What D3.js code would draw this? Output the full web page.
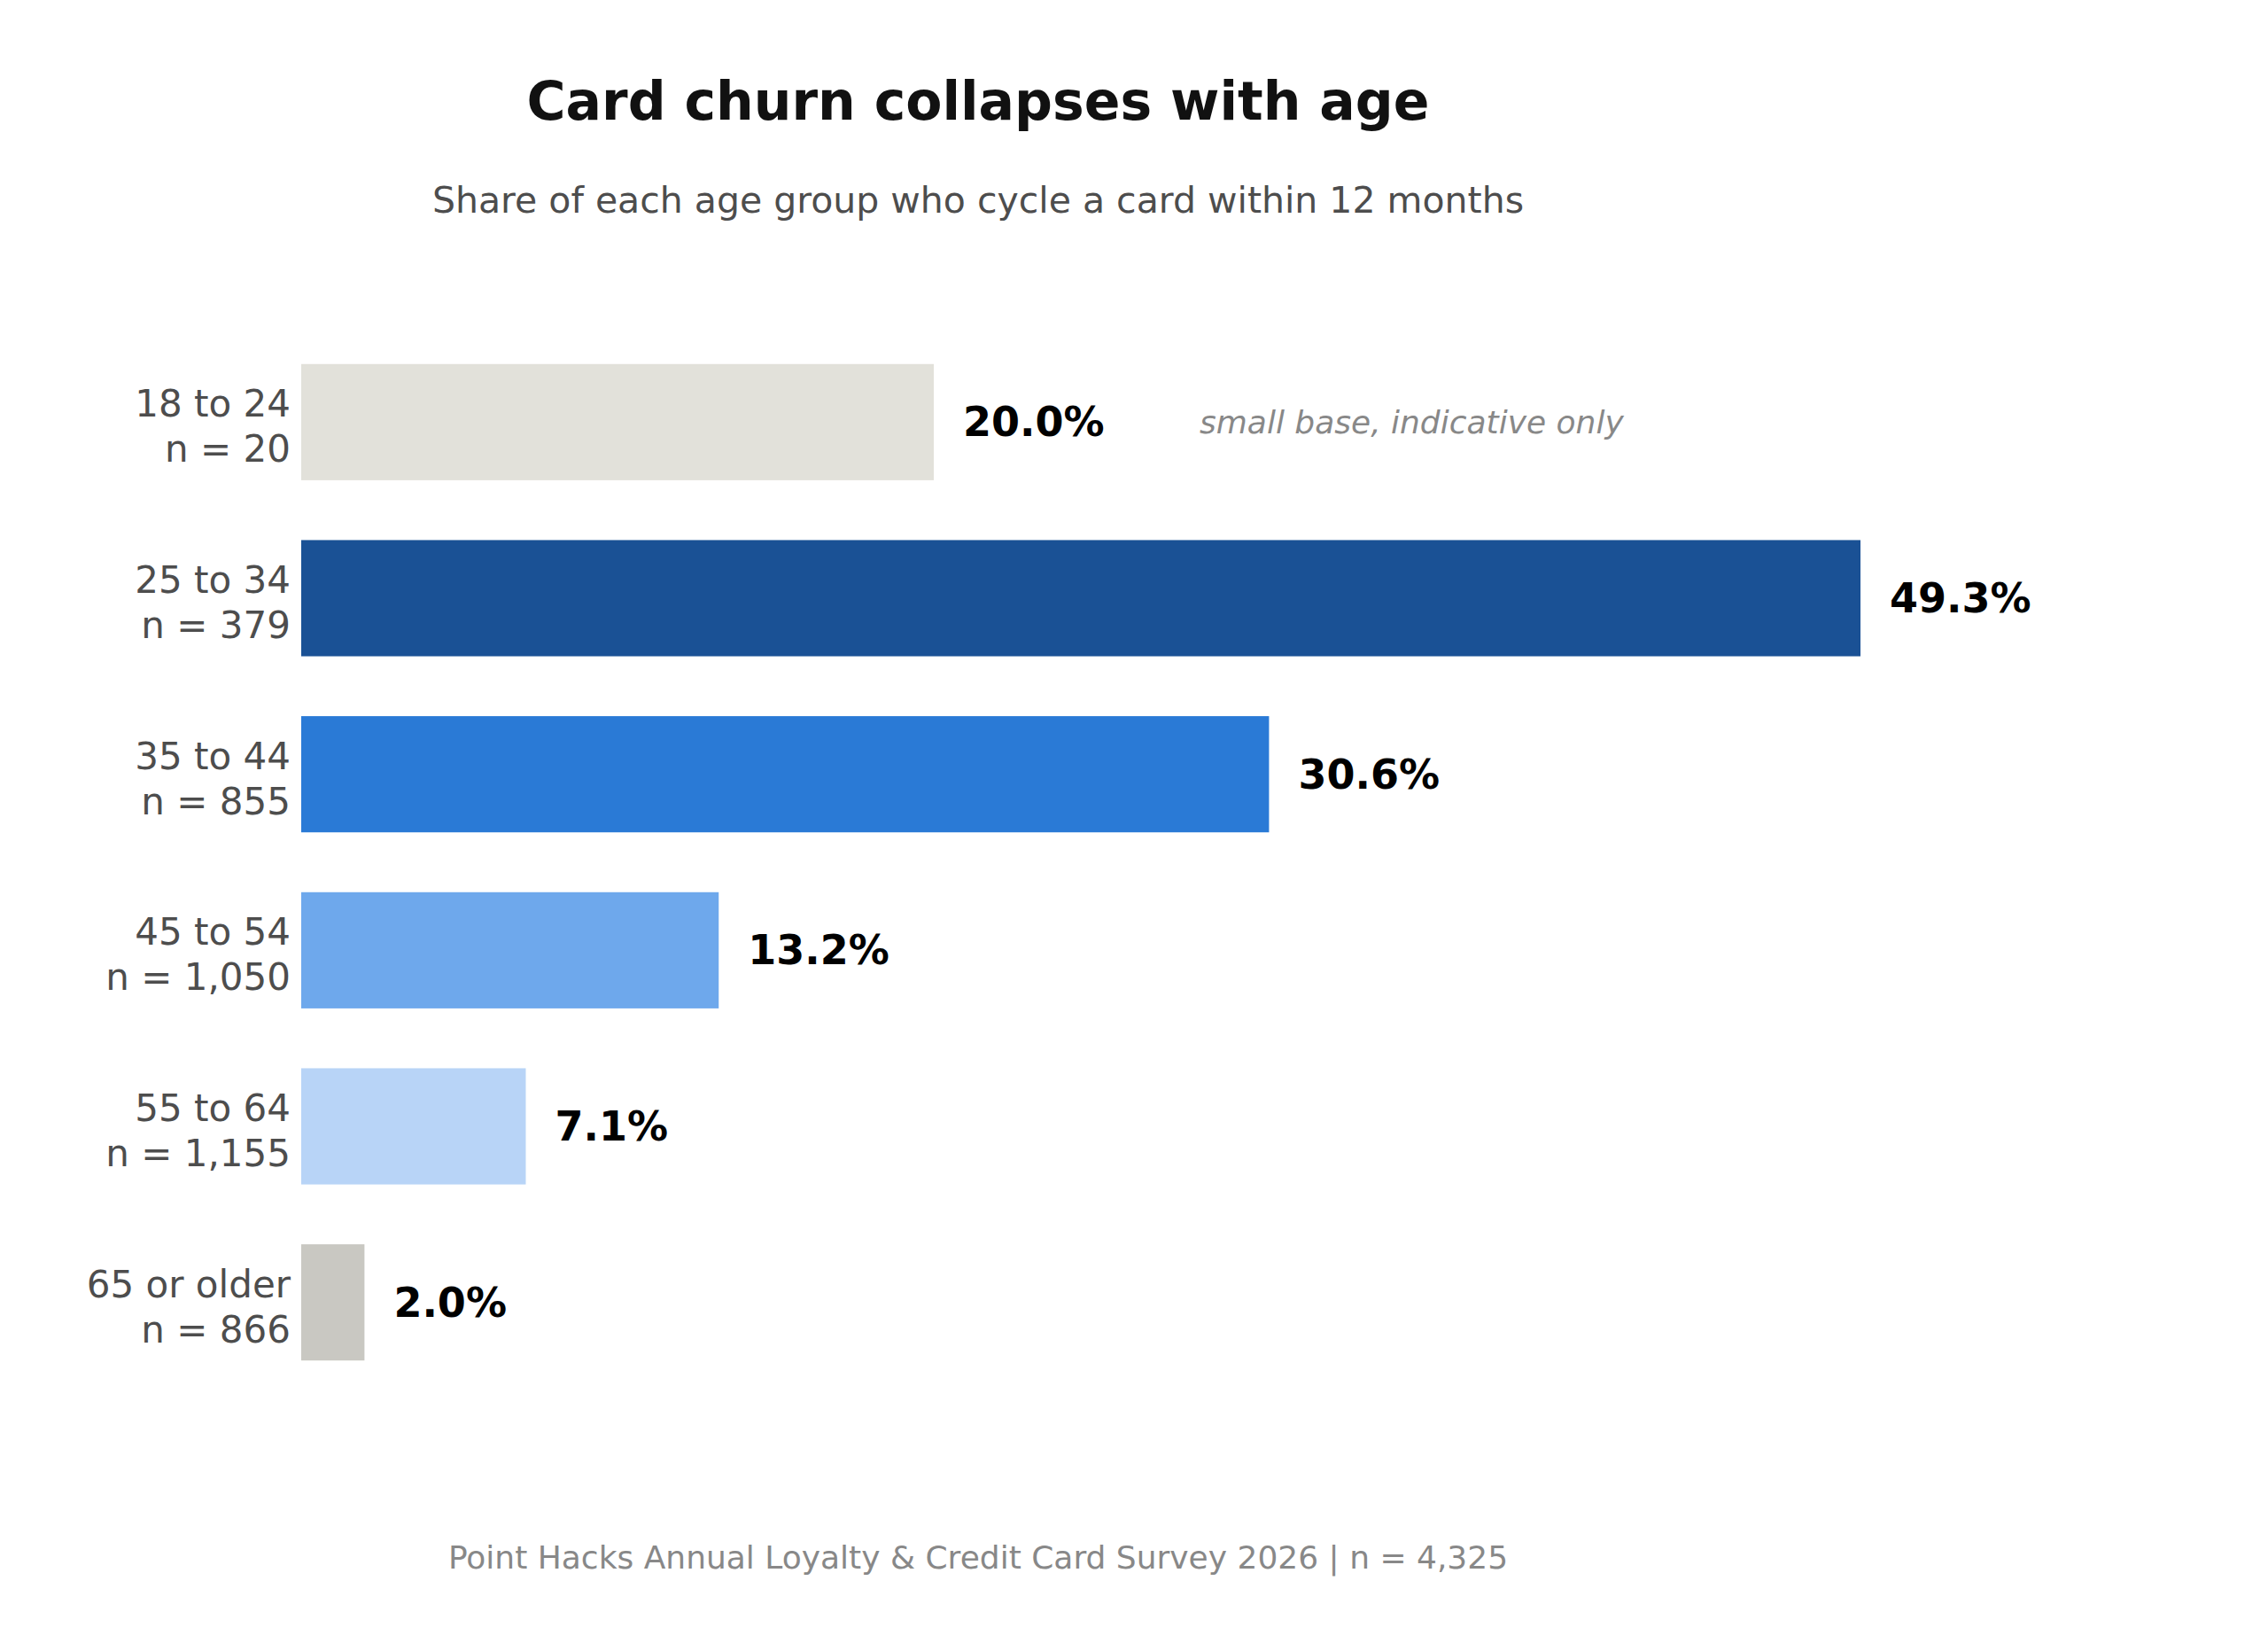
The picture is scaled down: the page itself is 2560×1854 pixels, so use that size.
<!DOCTYPE html>
<html><head><meta charset="utf-8">
<script src="https://cdn.jsdelivr.net/npm/d3@7"></script>
<style>body{margin:0;background:#fff}text{font-family:"DejaVu Sans",sans-serif}</style>
</head><body>
<script>
const groups = ["18 to 24", "25 to 34", "35 to 44", "45 to 54", "55 to 64", "65 or older"];
const bases = ["n = 20", "n = 379", "n = 855", "n = 1,050", "n = 1,155", "n = 866"];
const shares = [20.0, 49.3, 30.6, 13.2, 7.1, 2.0];
const colors = ["#e2e1da", "#1a5195", "#2a7ad6", "#6ea8ec", "#b8d4f7", "#c9c8c2"];

const W = 2560, H = 1854;
const svg = d3.select("body").append("svg").attr("width", W).attr("height", H);

const x = d3.scaleLinear().domain([0, 49.3]).range([340, 2100]);
const y = d3.scaleBand().domain(groups).range([377, 1569]).paddingInner(0.34).paddingOuter(0.17);

svg.append("text").attr("x", 1104).attr("y", 135).attr("text-anchor", "middle")
  .attr("font-size", 60).attr("font-weight", "bold").attr("fill", "#111")
  .text("Card churn collapses with age");
svg.append("text").attr("x", 1104).attr("y", 240).attr("text-anchor", "middle")
  .attr("font-size", 41).attr("fill", "#4d4d4d")
  .text("Share of each age group who cycle a card within 12 months");

const rows = svg.selectAll("g.row").data(groups).enter().append("g");

rows.append("rect")
  .attr("x", x(0)).attr("y", d => y(d))
  .attr("width", (d, i) => x(shares[i]) - x(0))
  .attr("height", y.bandwidth())
  .attr("fill", (d, i) => colors[i]);

rows.append("text").attr("x", 328).attr("text-anchor", "end")
  .attr("font-size", 42).attr("fill", "#4d4d4d")
  .each(function(d, i) {
    const c = y(d) + y.bandwidth() / 2;
    d3.select(this).append("tspan").attr("x", 328).attr("y", c - 6).text(d);
    d3.select(this).append("tspan").attr("x", 328).attr("y", c + 45).text(bases[i]);
  });

rows.append("text")
  .attr("x", (d, i) => x(shares[i]) + 33)
  .attr("y", d => y(d) + y.bandwidth() / 2 + 16)
  .attr("font-size", 46).attr("font-weight", "bold").attr("fill", "#000")
  .text((d, i) => shares[i].toFixed(1) + "%");

svg.append("text").attr("x", 1354).attr("y", y(groups[0]) + y.bandwidth() / 2 + 13)
  .attr("font-size", 36).attr("font-style", "italic").attr("fill", "#888")
  .text("small base, indicative only");

svg.append("text").attr("x", 1104).attr("y", 1770).attr("text-anchor", "middle")
  .attr("font-size", 36).attr("fill", "#888")
  .text("Point Hacks Annual Loyalty & Credit Card Survey 2026  |  n = 4,325");
</script>
</body></html>
